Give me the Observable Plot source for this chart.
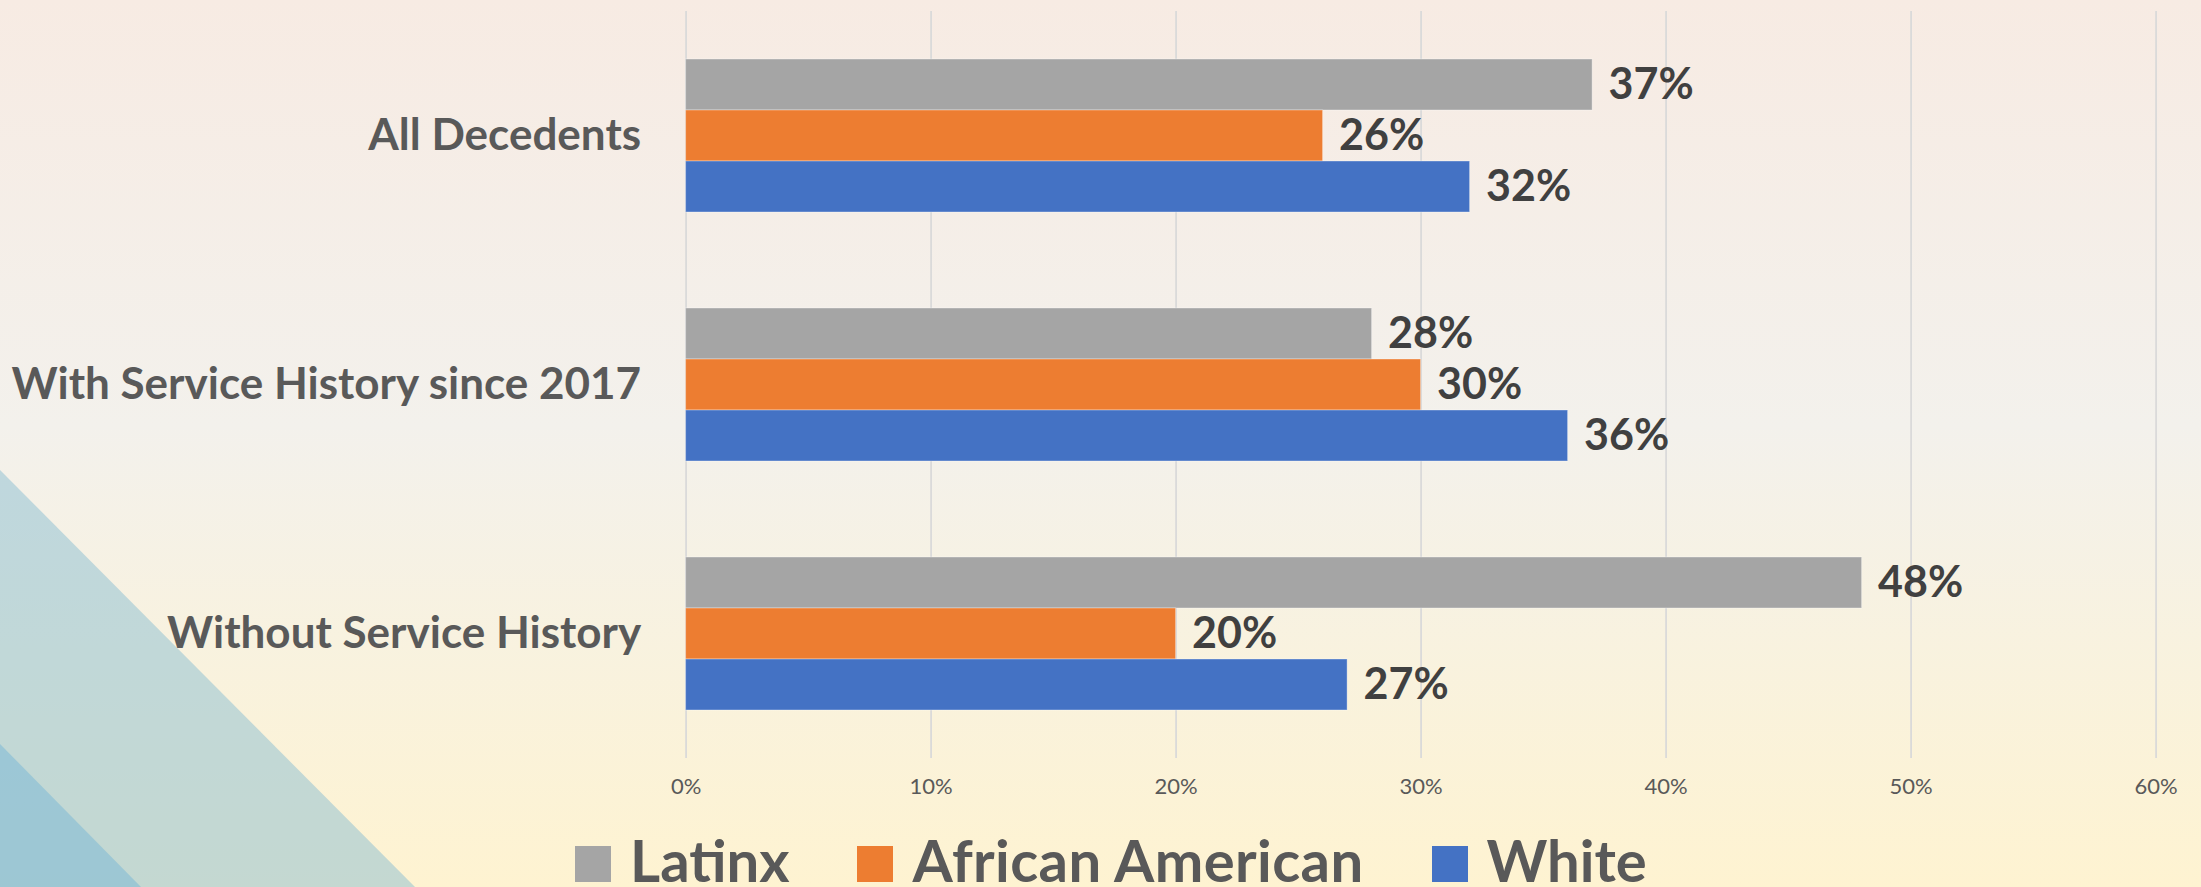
<!DOCTYPE html>
<html>
<head>
<meta charset="utf-8">
<script src="https://cdn.jsdelivr.net/npm/d3@7"></script>
<script src="https://cdn.jsdelivr.net/npm/@observablehq/plot@0.6"></script>
<style>
  html, body { margin: 0; padding: 0; }
  body { width: 2201px; height: 887px; overflow: hidden; position: relative;
         background: linear-gradient(to bottom, #F7EBE3 0%, #F3F1EC 48%, #FEF3D1 100%);
         font-family: Lato, "Open Sans", sans-serif; }
  .tri1 { position: absolute; left: 0; top: 0; width: 2201px; height: 887px;
          background: rgba(140,190,210,0.51);
          clip-path: polygon(0 470px, 415px 887px, 0 887px); }
  .tri2 { position: absolute; left: 0; top: 0; width: 2201px; height: 887px;
          background: rgba(100,175,215,0.4);
          clip-path: polygon(0 744px, 141px 887px, 0 887px); }
  #chart { position: absolute; left: 0; top: 0; }
  #legend { position: absolute; left: 575px; top: 831px; display: flex; align-items: baseline;
            font-family: Lato, sans-serif; font-weight: 700; font-size: 58px; line-height: 58px; color: #595959; }
  .item { display: flex; align-items: baseline; margin-right: 68px; }
  .sw { display: inline-block; width: 36px; height: 36px; margin-right: 19px; }
  #legend .t1 { letter-spacing: 0.4px; }
</style>
</head>
<body>
<div class="tri1"></div>
<div class="tri2"></div>
<div id="chart"></div>
<div id="legend"></div>
<script>
const categories = ["All Decedents", "With Service History since 2017", "Without Service History"];
const races = ["Latinx", "African American", "White"];
const colors = ["#A5A5A5", "#ED7D31", "#4472C4"];
const latinx = [37, 28, 48];
const africanAmerican = [26, 30, 20];
const white = [32, 36, 27];
const xTicks = [0, 10, 20, 30, 40, 50, 60];

const series = [latinx, africanAmerican, white];
const data = [];
categories.forEach((c, i) => {
  races.forEach((r, j) => data.push({category: c, race: r, value: series[j][i]}));
});

const chart = Plot.plot({
  width: 2201,
  height: 815,
  marginLeft: 685.6,
  marginRight: 45.4,
  marginTop: 11,
  marginBottom: 57,
  style: {background: "transparent", fontFamily: "Lato, sans-serif", overflow: "visible"},
  x: {domain: [0, 60]},
  y: {domain: races, paddingInner: 0, paddingOuter: 0.9, axis: null},
  fy: {domain: categories, padding: 0, axis: null},
  color: {domain: races, range: colors},
  marks: [
    Plot.gridX({ticks: xTicks, stroke: "#D9D9D9", strokeOpacity: 1, strokeWidth: 1.75}),
    Plot.barX(data, {x: "value", y: "race", fy: "category", fill: "race", stroke: "#ffffff", strokeOpacity: 0.35, strokeWidth: 1}),
    Plot.text(data, {x: "value", y: "race", fy: "category", text: d => d.value + "%", dx: 16,
      textAnchor: "start", fontSize: 43, fontWeight: 700, fill: "#404040"}),
    Plot.axisX({ticks: xTicks, tickFormat: d => d + "%", tickSize: 0, tickPadding: 20,
      fontSize: 22, color: "#595959", label: null}),
    Plot.axisFy({anchor: "left", tickSize: 0, tickPadding: 45, fontSize: 44, fontWeight: 700, color: "#595959", label: null})
  ]
});
document.getElementById("chart").appendChild(chart);

const legend = document.getElementById("legend");
races.forEach((r, i) => {
  const it = document.createElement("div");
  it.className = "item";
  const sw = document.createElement("span");
  sw.className = "sw";
  sw.style.background = colors[i];
  const t = document.createElement("span");
  t.className = "t" + i;
  t.textContent = r;
  it.appendChild(sw);
  it.appendChild(t);
  legend.appendChild(it);
});
</script>
</body>
</html>
